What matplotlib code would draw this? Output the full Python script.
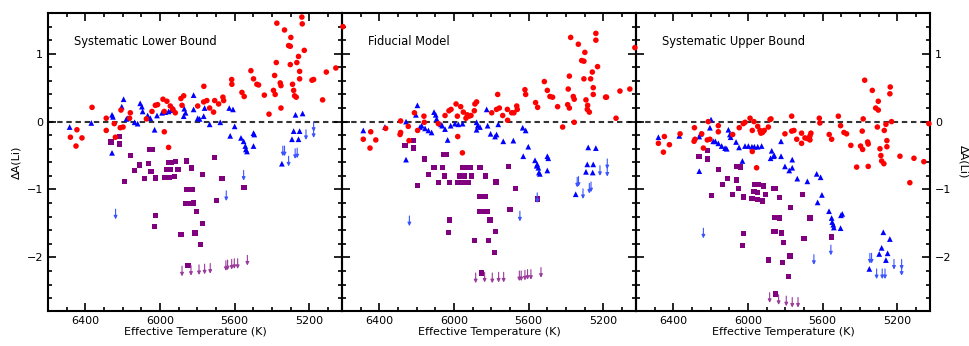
import matplotlib
matplotlib.use("Agg")
import matplotlib.pyplot as plt
from matplotlib.ticker import MultipleLocator

# ---------------- data ----------------
titles = ["Systematic Lower Bound", "Fiducial Model", "Systematic Upper Bound"]
xticks = [6400, 6000, 5600, 5200]
yticks = [-2, -1, 0, 1]

# Panel 1: systematic lower bound
t_red_1 = [6480, 6445, 6450, 6418, 6364, 6288, 6288, 6239, 6245, 6213, 6198, 6209, 6159, 6163, 6073, 6043,
           6025, 6013, 5984, 5963, 5977, 5977, 5954, 5945, 5931, 5918, 5888, 5873, 5882, 5798, 5765, 5766,
           5749, 5734, 5713, 5707, 5686, 5663, 5659, 5616, 5615, 5561, 5549, 5513, 5499, 5481, 5472, 5441,
           5416, 5392, 5383, 5377, 5386, 5374, 5356, 5352, 5352, 5333, 5311, 5302, 5299, 5302, 5290, 5284,
           5279, 5270, 5267, 5258, 5252, 5252, 5240, 5238, 5227, 5186, 5177, 5129, 5109, 5058, 5020]
a_red_1 = [-0.23, -0.12, -0.36, -0.24, 0.21, 0.05, -0.13, -0.23, -0.03, -0.09, -0.08, 0.17, 0.13, 0.05, 0.04, 0.15,
           0.24, 0.25, 0.33, 0.30, 0.15, -0.15, -0.38, 0.23, 0.18, 0.13, 0.34, 0.38, 0.24, 0.23, 0.52, 0.29,
           0.31, 0.20, 0.14, 0.31, 0.26, 0.36, 0.31, 0.62, 0.55, 0.43, 0.37, 0.75, 0.63, 0.55, 0.54, 0.39,
           0.11, 0.46, 0.40, 0.87, 0.68, 1.45, 0.57, 0.53, 0.20, 1.35, 1.12, 1.11, 1.24, 0.84, 0.55, 0.46,
           0.38, 0.36, 0.87, 0.96, 0.74, 0.63, 1.54, 1.44, 1.05, 0.61, 0.62, 0.32, 0.73, 0.79, 1.40]
t_blue_1 = [6484, 6368, 6257, 6252, 6257, 6205, 6195, 6180, 6173, 6136, 6120, 6106, 6097, 6093, 6066, 6052,
            6029, 6016, 5989, 5972, 5954, 5941, 5927, 5873, 5863, 5870, 5820, 5820, 5798, 5788, 5766, 5761,
            5734, 5677, 5629, 5609, 5624, 5600, 5566, 5552, 5543, 5540, 5534, 5499, 5495, 5499, 5347, 5284,
            5293, 5274, 5258, 5252, 5236]
a_blue_1 = [-0.08, -0.02, 0.10, 0.07, -0.46, 0.22, 0.33, 0.04, 0.05, -0.01, -0.03, 0.27, 0.22, 0.15, 0.09, 0.05,
            -0.12, 0.09, 0.13, 0.14, 0.15, 0.17, 0.19, 0.08, 0.13, 0.19, 0.39, 0.18, 0.05, 0.04, 0.08, 0.20,
            -0.04, -0.01, 0.20, 0.18, -0.21, -0.07, -0.24, -0.29, -0.36, -0.41, -0.44, -0.17, -0.19, -0.36, -0.62, -0.14,
            -0.26, 0.10, -0.26, -0.14, 0.12]
t_blim_1 = [5342, 5333, 5311, 5276, 5265, 5218, 5177, 5177, 6238, 5645, 5552]
a_blim_1 = [-0.36, -0.36, -0.51, -0.40, -0.39, -0.12, 0.00, -0.09, -1.29, -1.02, -0.72]
t_purp_1 = [6263, 6218, 6218, 6159, 6109, 6061, 6057, 6039, 5954, 5941, 5916, 5859, 5832, 5707, 6191, 6136,
            6048, 6082, 6022, 5977, 5966, 5945, 5948, 5922, 5904, 5831, 5772, 5668, 5550, 5856, 5829, 5699,
            5861, 5850, 5820, 5806, 6022, 6029, 5774, 5888, 5813, 5781, 5850]
a_purp_1 = [-0.30, -0.22, -0.33, -0.50, -0.64, -0.62, -0.41, -0.41, -0.60, -0.60, -0.59, -0.58, -0.68, -0.53, -0.885, -0.72,
            -0.73, -0.84, -0.83, -0.82, -0.71, -0.71, -0.82, -0.81, -0.71, -0.69, -0.78, -0.84, -0.97, -1.00, -1.00, -1.16,
            -1.21, -1.21, -1.20, -1.33, -1.38, -1.55, -1.50, -1.66, -1.64, -1.81, -2.12]
t_plim_1 = [5882, 5834, 5791, 5761, 5731, 5647, 5638, 5616, 5602, 5584, 5532]
a_plim_1 = [-2.13, -2.12, -2.11, -2.10, -2.09, -2.05, -2.04, -2.03, -2.02, -2.02, -1.97]

# Panel 2: fiducial model
t_red_2 = [6486, 6446, 6419, 6450, 6366, 6289, 6286, 6286, 6245, 6241, 6212, 6195, 6161, 6159, 6084, 6048,
           6027, 6016, 5989, 5982, 5980, 5964, 5955, 5950, 5936, 5929, 5920, 5909, 5891, 5888, 5879, 5798,
           5766, 5772, 5757, 5739, 5714, 5713, 5691, 5679, 5664, 5661, 5620, 5616, 5563, 5552, 5516, 5500,
           5486, 5472, 5445, 5418, 5391, 5382, 5388, 5382, 5375, 5361, 5356, 5356, 5334, 5316, 5304, 5299,
           5304, 5293, 5284, 5286, 5275, 5268, 5259, 5254, 5254, 5240, 5240, 5231, 5188, 5183, 5132, 5111,
           5058, 5031]
a_red_2 = [-0.26, -0.15, -0.27, -0.39, -0.10, -0.19, -0.16, 0.01, -0.07, -0.28, 0.13, -0.13, 0.08, -0.01, -0.03, 0.09,
           0.16, 0.18, 0.26, 0.08, -0.22, 0.22, -0.46, 0.14, 0.05, 0.10, 0.08, 0.09, 0.16, 0.26, 0.29, 0.13,
           0.40, 0.18, 0.20, 0.09, 0.18, 0.02, 0.13, 0.13, 0.23, 0.18, 0.47, 0.40, 0.28, 0.21, 0.59, 0.46,
           0.37, 0.36, 0.22, -0.08, 0.25, 0.20, 0.48, 0.67, 1.24, 0.37, 0.33, -0.01, 1.14, 0.90, 0.89, 1.02,
           0.63, 0.32, 0.24, 0.18, 0.14, 0.63, 0.73, 0.50, 0.40, 1.30, 1.20, 0.81, 0.36, 0.36, 0.05, 0.45,
           0.48, 1.09]
t_blue_2 = [6486, 6370, 6257, 6257, 6204, 6196, 6182, 6173, 6155, 6137, 6120, 6107, 6098, 6093, 6070, 6063,
            6048, 6034, 6018, 5995, 5977, 5954, 5879, 5873, 5861, 5879, 5825, 5820, 5804, 5780, 5772, 5763,
            5736, 5682, 5632, 5616, 5602, 5629, 5566, 5554, 5548, 5540, 5500, 5495, 5281, 5240, 5286, 5254,
            5557, 5545, 5500, 5293, 5257, 5348]
a_blue_2 = [-0.13, -0.08, 0.00, -0.56, 0.10, 0.24, -0.08, -0.06, -0.10, -0.13, -0.16, 0.14, 0.10, 0.04, -0.04, -0.06,
            -0.11, -0.27, -0.06, -0.03, -0.04, -0.03, -0.01, -0.06, -0.08, -0.12, 0.18, -0.06, -0.18, -0.22, -0.19, -0.04,
            -0.29, -0.28, -0.09, -0.13, -0.37, -0.51, -0.57, -0.63, -0.68, -0.77, -0.51, -0.54, -0.38, -0.39, -0.63, -0.63,
            -0.65, -0.75, -0.72, -0.74, -0.75, -1.07]
t_blim_2 = [6239, 5647, 5340, 5333, 5309, 5275, 5266, 5218, 5179, 5179, 5554]
a_blim_2 = [-1.39, -1.32, -0.82, -0.81, -0.99, -0.91, -0.89, -0.65, -0.55, -0.66, -1.05]
t_purp_2 = [6262, 6218, 6218, 6159, 6107, 6061, 6057, 6040, 5709, 6195, 6137, 6050, 6084, 6023, 5979, 5950,
            5923, 5968, 5946, 5955, 5936, 5914, 5907, 5861, 5832, 5775, 5670, 5861, 5834, 5861, 5850, 5820,
            5700, 5807, 6023, 6030, 5777, 5891, 5814, 5784, 5854, 5552]
a_purp_2 = [-0.35, -0.28, -0.39, -0.55, -0.68, -0.68, -0.48, -0.48, -0.66, -0.94, -0.78, -0.80, -0.90, -0.90, -0.90, -0.90,
            -0.90, -0.80, -0.80, -0.68, -0.68, -0.68, -0.80, -0.68, -0.80, -0.89, -0.98, -1.10, -1.10, -1.32, -1.32, -1.32,
            -1.30, -1.45, -1.45, -1.63, -1.62, -1.75, -1.75, -1.93, -2.23, -1.14]
t_plim_2 = [5884, 5836, 5795, 5761, 5734, 5650, 5640, 5620, 5606, 5588, 5534]
a_plim_2 = [-2.23, -2.22, -2.23, -2.22, -2.22, -2.20, -2.20, -2.19, -2.18, -2.18, -2.15]

# Panel 3: systematic upper bound
t_red_3 = [6480, 6448, 6453, 6421, 6364, 6287, 6289, 6284, 6248, 6239, 6213, 6218, 6204, 6159, 6159, 6082,
           6047, 6025, 6016, 5989, 5977, 5977, 5968, 5948, 5936, 5931, 5922, 5913, 5891, 5882, 5877, 5954,
           5802, 5766, 5766, 5754, 5739, 5713, 5713, 5695, 5682, 5668, 5668, 5663, 5618, 5615, 5565, 5552,
           5516, 5504, 5486, 5472, 5449, 5418, 5397, 5386, 5388, 5383, 5375, 5359, 5356, 5356, 5334, 5316,
           5302, 5302, 5307, 5293, 5288, 5284, 5272, 5270, 5261, 5256, 5256, 5240, 5238, 5231, 5186, 5111,
           5058, 5031, 5133]
a_red_3 = [-0.32, -0.22, -0.45, -0.34, -0.18, -0.09, -0.29, -0.26, -0.18, -0.39, 0.00, -0.27, -0.26, -0.06, -0.15, -0.19,
           -0.09, -0.03, -0.01, 0.05, -0.13, -0.44, 0.00, -0.07, -0.13, -0.17, -0.16, -0.13, -0.08, 0.03, 0.04, -0.68,
           -0.18, 0.08, -0.14, -0.13, -0.26, -0.17, -0.32, -0.24, -0.25, -0.27, -0.21, -0.17, 0.05, -0.02, -0.19, -0.26,
           0.08, -0.06, -0.16, -0.18, -0.35, -0.67, -0.36, -0.41, -0.14, 0.04, 0.61, -0.30, -0.33, -0.66, 0.46, 0.20,
           0.17, 0.30, -0.08, -0.40, -0.50, -0.58, -0.62, -0.13, -0.04, -0.28, -0.37, 0.41, 0.51, 0.00, -0.51, -0.54,
           -0.59, -0.03, -0.90]
t_blue_3 = [6480, 6368, 6261, 6254, 6204, 6198, 6186, 6175, 6159, 6141, 6123, 6114, 6105, 6097, 6093, 6064,
            6048, 6030, 6016, 5998, 5979, 5966, 5948, 5927, 5873, 5864, 5879, 5859, 5823, 5823, 5763, 5802,
            5763, 6261, 5779, 5736, 5682, 5632, 5611, 5604, 5627, 5566, 5552, 5549, 5540, 5543, 5502, 5495,
            5504, 5275, 5240, 5284, 5297, 5252, 5261, 5350]
a_blue_3 = [-0.23, -0.21, -0.22, -0.18, -0.09, 0.03, -0.29, -0.29, -0.32, -0.36, -0.39, -0.40, -0.12, -0.19, -0.23, -0.30,
            -0.38, -0.58, -0.36, -0.36, -0.37, -0.37, -0.37, -0.36, -0.43, -0.51, -0.54, -0.50, -0.29, -0.51, -0.56, -0.66,
            -0.68, -0.73, -0.72, -0.84, -0.88, -0.77, -0.82, -1.08, -1.19, -1.32, -1.42, -1.48, -1.56, -1.52, -1.38, -1.36,
            -1.57, -1.63, -1.73, -1.86, -1.95, -1.94, -2.04, -2.17]
t_blim_3 = [6239, 5647, 5556, 5347, 5338, 5311, 5281, 5266, 5218, 5177, 5177]
a_blim_3 = [-1.57, -1.96, -1.82, -1.94, -1.94, -2.17, -2.17, -2.17, -2.03, -2.03, -2.12]
t_purp_3 = [6263, 6218, 6218, 6195, 6159, 6138, 6109, 6061, 6039, 6061, 6084, 6050, 6025, 5979, 5968, 5948,
            5963, 5945, 5918, 5950, 5923, 5907, 5864, 5855, 5832, 5772, 5709, 5668, 5859, 5832, 5864, 5852,
            5820, 6022, 6030, 5700, 5552, 5811, 5891, 5775, 5814, 5782, 5852]
a_purp_3 = [-0.51, -0.43, -0.55, -1.09, -0.70, -0.93, -0.84, -0.66, -0.67, -0.86, -1.07, -0.98, -1.11, -1.13, -1.03, -1.04,
            -0.93, -0.93, -0.95, -1.15, -1.17, -1.07, -0.98, -0.99, -1.12, -1.26, -1.07, -1.42, -1.41, -1.42, -1.62, -1.62,
            -1.64, -1.65, -1.83, -1.72, -1.70, -1.78, -2.04, -1.98, -2.08, -2.28, -2.54]
t_plim_3 = [5884, 5836, 5795, 5763, 5732, 5650, 5641, 5618, 5604, 5588, 5534]
a_plim_3 = [-2.52, -2.55, -2.57, -2.59, -2.59, -2.65, -2.65, -2.66, -2.67, -2.68, -2.71]

panels = [
    (t_red_1, a_red_1, t_blue_1, a_blue_1, t_blim_1, a_blim_1, t_purp_1, a_purp_1, t_plim_1, a_plim_1),
    (t_red_2, a_red_2, t_blue_2, a_blue_2, t_blim_2, a_blim_2, t_purp_2, a_purp_2, t_plim_2, a_plim_2),
    (t_red_3, a_red_3, t_blue_3, a_blue_3, t_blim_3, a_blim_3, t_purp_3, a_purp_3, t_plim_3, a_plim_3),
]

# ---------------- figure ----------------
W, H = 969, 346
fig = plt.figure(figsize=(W / 100, H / 100), dpi=100)
fig.patch.set_facecolor("white")

left_px = [48, 342, 636]
pw = 294
top_px, bot_px = 13, 311
arrow_len = 0.15
FS = 8

for i, (tr, ar, tb, ab, tbl, abl, tp, ap, tpl, apl) in enumerate(panels):
    ax = fig.add_axes([left_px[i] / W, 1 - bot_px / H, pw / W, (bot_px - top_px) / H])
    ax.set_facecolor("none")
    ax.set_zorder(3 - i)
    ax.set_xlim(6600, 5025)
    ax.set_ylim(-2.79, 1.6)
    ax.axhline(0, color="#333333", ls=(0, (2.6, 1.8)), lw=1.5, zorder=1)

    ax.scatter(tp, ap, marker="s", s=14, color="#800080", edgecolors="none", zorder=3)
    ax.scatter(tb, ab, marker="^", s=17, color="#0000ff", edgecolors="none", zorder=4)
    ax.scatter(tr, ar, marker="o", s=16, color="#ff0000", edgecolors="none", zorder=5, clip_on=False)

    for x, y in zip(tbl, abl):
        ax.annotate("", xy=(x, y - arrow_len), xytext=(x, y),
                    arrowprops=dict(arrowstyle="-|>", color="#3a55ff", lw=0.8,
                                    mutation_scale=5, shrinkA=0, shrinkB=0),
                    annotation_clip=True, zorder=4)
    for x, y in zip(tpl, apl):
        ann = ax.annotate("", xy=(x, y - arrow_len), xytext=(x, y),
                          arrowprops=dict(arrowstyle="-|>", color="#9a3a9a", lw=0.8,
                                          mutation_scale=5, shrinkA=0, shrinkB=0),
                          annotation_clip=True, zorder=3)
        ann.arrow_patch.set_clip_box(ax.bbox)
        ann.arrow_patch.set_clip_on(True)

    ax.set_xticks(xticks)
    ax.set_yticks(yticks)
    ax.xaxis.set_minor_locator(MultipleLocator(100))
    ax.yaxis.set_minor_locator(MultipleLocator(0.2))
    ax.tick_params(which="both", direction="in", top=True, right=True, width=1.2, labelsize=FS)
    ax.tick_params(which="major", length=6)
    ax.tick_params(which="minor", length=3)
    for s in ax.spines.values():
        s.set_linewidth(1.5)
    ax.set_xlabel("Effective Temperature (K)", fontsize=FS, labelpad=1)
    ax.text(0.09, 0.905, titles[i], transform=ax.transAxes, fontsize=8.3, ha="left", va="center")

    if i == 0:
        ax.set_ylabel("ΔA(Li)", fontsize=FS)
        ax.tick_params(labelleft=True, labelright=False)
    elif i == 2:
        ax.tick_params(labelleft=False, labelright=True)
        ax.yaxis.set_label_position("right")
        ax.set_ylabel("ΔA(Li)", fontsize=FS, rotation=270, labelpad=12)
    else:
        ax.tick_params(labelleft=False)
    ax.set_yticklabels(["\u22122", "\u22121", "0", "1"])

fig.savefig("out.png", dpi=100)
